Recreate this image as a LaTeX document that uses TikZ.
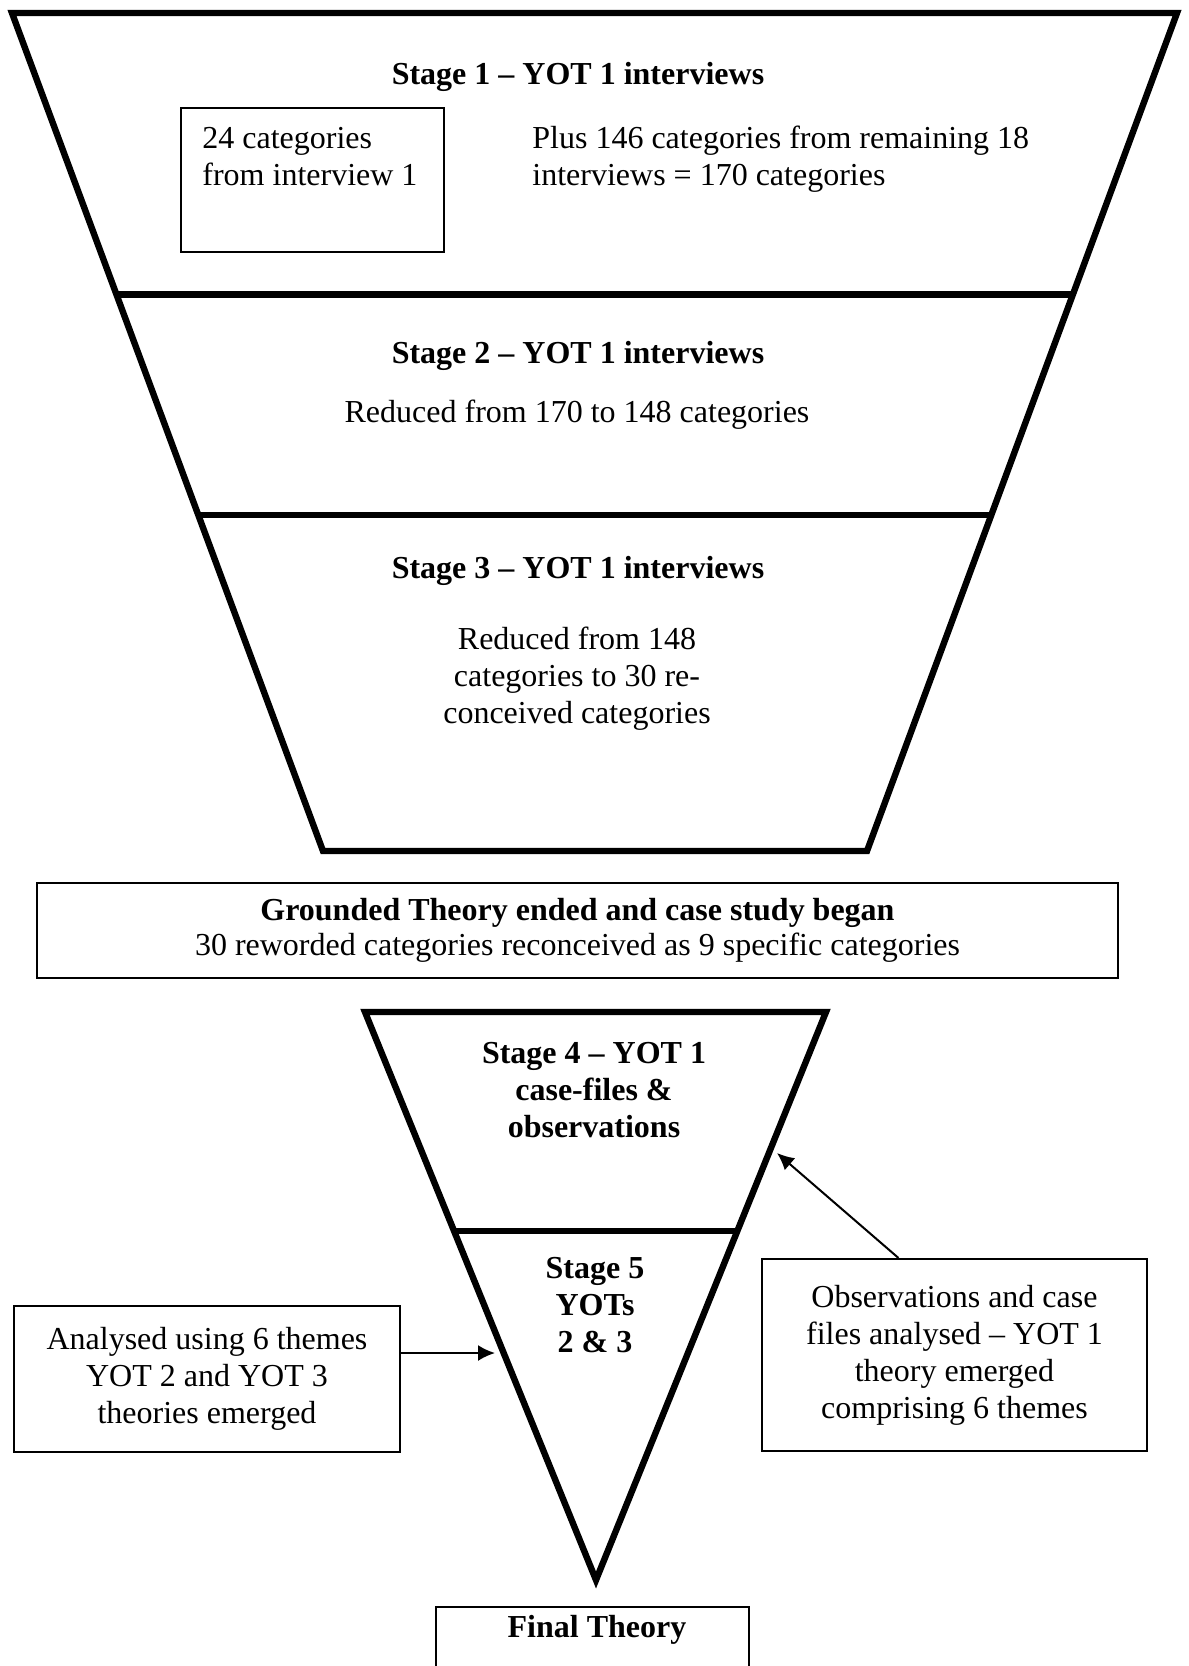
\documentclass[tikz,border=0pt]{standalone}
\usepackage{fontspec}
\setmainfont{Liberation Serif}
\usetikzlibrary{calc,arrows.meta}
\begin{document}
\begin{tikzpicture}[x=0.5pt,y=-0.5pt,
  thickline/.style={line width=3.2pt, line join=miter},
  thinbox/.style={draw, line width=1pt, inner sep=0pt},
  txt/.style={font=\fontsize{16}{18.5}\selectfont, inner sep=0pt, align=center},
  btxt/.style={font=\fontsize{16}{18.5}\selectfont\bfseries, inner sep=0pt, align=center},
  conn/.style={line width=1pt, -{Latex[length=8.5pt,width=8pt]}}
]
\useasboundingbox[fill=white] (0,0) rectangle (1189,1666);

% upper funnel
\coordinate (TL) at (12,13);
\coordinate (TR) at (1177,13);
\coordinate (BL) at (323,851);
\coordinate (BR) at (867,851);
\draw[thickline] (TL) -- (TR) -- (BR) -- (BL) -- cycle;
\draw[thickline] ($(TL)!0.336!(BL)$) -- ($(TR)!0.336!(BR)$);
\draw[thickline] ($(TL)!0.599!(BL)$) -- ($(TR)!0.599!(BR)$);

% stage 1 (multi-line nodes: base = last line's baseline)
\node[btxt, anchor=base] (s1title) at (578,84) {Stage 1 -- YOT 1 interviews};
\node[thinbox, minimum width=131.5pt, minimum height=72pt] (box1) at (312.5,180) {};
\node[txt, align=left, anchor=base west] (box1txt) at (202,185) {24 categories\\from interview 1};
\node[txt, align=left, anchor=base west] (plus) at (532,185) {Plus 146 categories from remaining 18\\interviews = 170 categories};

% stage 2
\node[btxt, anchor=base] (s2title) at (578,363) {Stage 2 -- YOT 1 interviews};
\node[txt, anchor=base] (s2body) at (577,422) {Reduced from 170 to 148 categories};

% stage 3
\node[btxt, anchor=base] (s3title) at (578,578) {Stage 3 -- YOT 1 interviews};
\node[txt, anchor=base] (s3body) at (577,723) {Reduced from 148\\categories to 30 re-\\conceived categories};

% grounded theory box
\node[thinbox, minimum width=540.5pt, minimum height=47.5pt, font=\fontsize{16}{17.5}\selectfont, align=center] (gbox) at (577.5,930.5)
  {\textbf{Grounded Theory ended and case study began}\\30 reworded categories reconceived as 9 specific categories};

% lower funnel
\coordinate (LT) at (365,1012);
\coordinate (RT) at (826,1012);
\coordinate (TIP) at (596,1580);
\draw[thickline] (LT) -- (RT) -- (TIP) -- cycle;
\draw[thickline] ($(LT)!0.386!(TIP)$) -- ($(RT)!0.386!(TIP)$);

\node[btxt, anchor=base] (s4) at (594,1137) {Stage 4 -- YOT 1\\case-files \&\\observations};
\node[btxt, anchor=base] (s5) at (595,1352) {Stage 5\\YOTs\\2 \& 3};

% side boxes
\node[thinbox, txt, minimum width=193pt, minimum height=73pt] (lbox) at (207,1379)
  {Analysed using 6 themes\\YOT 2 and YOT 3\\theories emerged};
\node[thinbox, txt, minimum width=192.5pt, minimum height=96pt] (rbox) at (954.5,1355)
  {Observations and case\\files analysed -- YOT 1\\theory emerged\\comprising 6 themes};

\coordinate (s5in) at (495,1353);
\coordinate (s4in) at (777,1153);
\draw[conn] (lbox.east |- s5in) -- (s5in);
\draw[conn] ([xshift=-28pt]rbox.north) -- (s4in);

% final theory
\node[thinbox, anchor=north, minimum width=156.5pt, minimum height=40pt] (final) at (592.5,1606) {};
\node[btxt, anchor=base] (finaltxt) at (597,1637) {Final Theory};
\end{tikzpicture}
\end{document}
